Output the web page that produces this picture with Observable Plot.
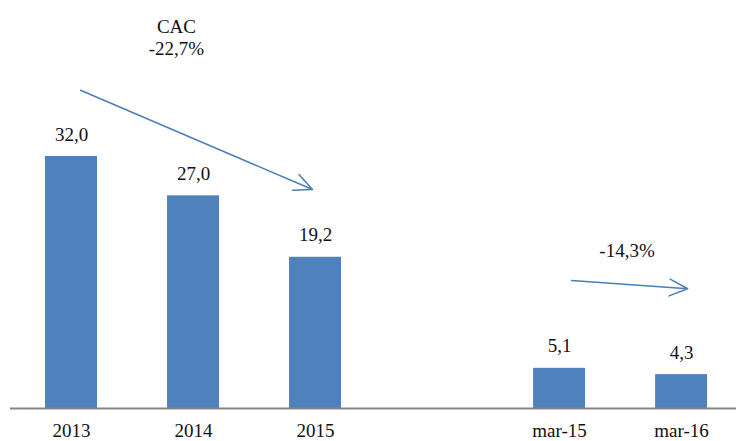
<!DOCTYPE html>
<html>
<head>
<meta charset="utf-8">
<script src="https://cdn.jsdelivr.net/npm/d3@7"></script>
<script src="https://cdn.jsdelivr.net/npm/@observablehq/plot@0.6"></script>
<style>
  html, body { margin: 0; padding: 0; background: #fff; }
  #chart { width: 736px; height: 441px; }
</style>
</head>
<body>
<div id="chart"></div>
<script>
// Categories (slot index 3 is an empty gap between the yearly and monthly groups)
const categories = ["2013", "2014", "2015", "mar-15", "mar-16"];
const slots = [0, 1, 2, 4, 5];
const values = [32.0, 27.0, 19.2, 5.1, 4.3];
const valueLabels = ["32,0", "27,0", "19,2", "5,1", "4,3"];

// Annotations (data coordinates: slot index, value)
const arrowStarts = [[0.074, 40.4], [4.098, 16.25]];
const arrowEnds = [[1.975, 27.8], [5.05, 15.2]];
const noteTexts = ["CAC\n-22,7%", "-14,3%"];
const notePos = [[0.86, 47.2], [4.553, 20.1]];

const bars = slots.map((s, i) => ({slot: s, value: values[i], label: valueLabels[i], cat: categories[i]}));
const arrows = arrowStarts.map((a, i) => ({x1: a[0], y1: a[1], x2: arrowEnds[i][0], y2: arrowEnds[i][1]}));
const notes = noteTexts.map((t, i) => ({text: t, x: notePos[i][0], y: notePos[i][1]}));

const barColor = "#4f81bd";
const arrowColor = "#4a7ebb";
const font = "'Times New Roman', Tinos, 'Liberation Serif', Times, 'Noto Serif', 'DejaVu Serif', Georgia, serif";

const chart = Plot.plot({
  width: 736,
  height: 441,
  marginLeft: 10,
  marginRight: 0,
  marginTop: 0,
  marginBottom: 33,
  style: {fontFamily: font, fontSize: "19px", color: "#111", background: "#fff"},
  x: {domain: [-0.5, 5.45], axis: null},
  y: {domain: [0, 51.8], axis: null},
  marks: [
    Plot.rectY(bars, {x1: d => d.slot - 0.213, x2: d => d.slot + 0.213, y: "value", fill: barColor}),
    Plot.ruleY([0], {stroke: "#868686", strokeWidth: 2}),
    Plot.text(bars, {x: "slot", y: "value", text: "label", dy: -22, fill: "#111", fontSize: 19, fontFamily: font}),
    Plot.text(bars, {x: "slot", y: 0, text: "cat", dy: 22, fill: "#111", fontSize: 19, fontFamily: font}),
    Plot.arrow(arrows, {x1: "x1", y1: "y1", x2: "x2", y2: "y2", stroke: arrowColor, strokeWidth: 1.5, headLength: 20, headAngle: 50, bend: 0}),
    Plot.text(notes, {x: "x", y: "y", text: "text", fill: "#111", fontSize: 19, lineHeight: 1.15, fontFamily: font})
  ]
});
document.getElementById("chart").appendChild(chart);
</script>
</body>
</html>
